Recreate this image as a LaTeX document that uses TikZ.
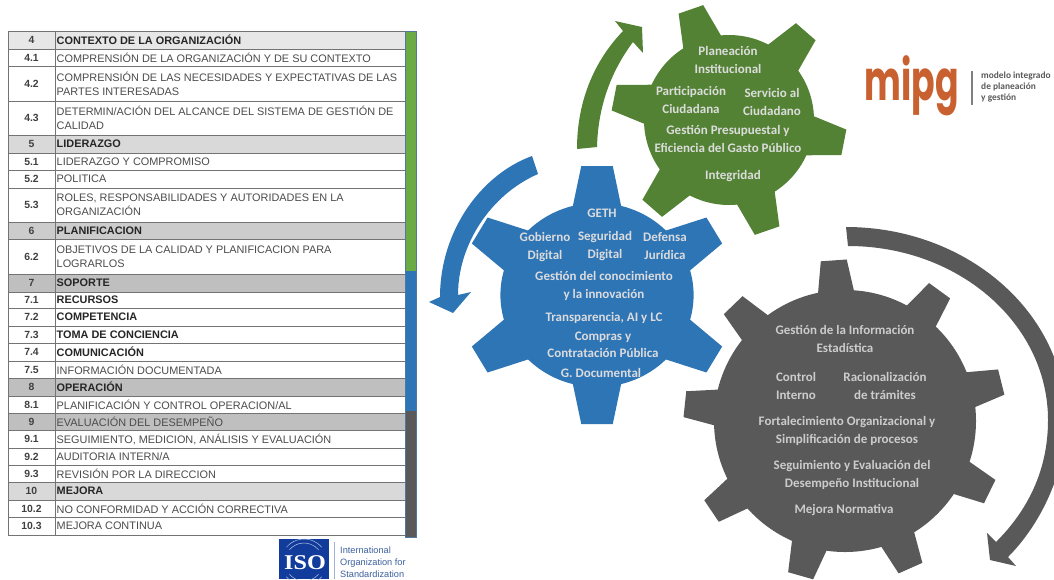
\documentclass[tikz,border=0pt]{standalone}
\usepackage{fontspec}
\setmainfont{Carlito}
\newfontfamily\tablefont[WordSpace=0.6]{Liberation Sans}
\newfontfamily\tableheadfont{Liberation Sans}
\newfontfamily\logofont{Poppins}
\newfontfamily\isofont{Liberation Serif}
\definecolor{gearGreen}{HTML}{548235}
\definecolor{gearBlue}{HTML}{2E75B6}
\definecolor{gearGray}{HTML}{595959}
\definecolor{barGreen}{HTML}{6AAB45}
\definecolor{rowA}{HTML}{E7E7E7}
\definecolor{rowB}{HTML}{D9D9D9}
\definecolor{rowC}{HTML}{CCCCCC}
\definecolor{rowD}{HTML}{BFBFBF}
\definecolor{mipgOrange}{HTML}{C9602F}
\definecolor{isoBlue}{HTML}{123C9C}
\definecolor{isoText}{HTML}{3D5F9E}
\begin{document}
\begin{tikzpicture}
[x=1pt,y=-1pt,
  numdecorate/.style={inner sep=0pt,font=\tableheadfont\fontsize{10.4}{12}\selectfont\bfseries,text=black!75},
  rowplain/.style={anchor=west,inner xsep=1pt,inner ysep=0pt,align=left,font=\tablefont\fontsize{10.9}{14.3}\selectfont,text=black!70},
  rowhead/.style={rowplain,font=\tableheadfont\fontsize{10.9}{14.3}\selectfont\bfseries,text=black!85},
  geartext/.style={inner sep=0pt,align=center,font=\fontsize{13}{17.3}\selectfont\bfseries},
  greentext/.style={geartext,text=green!5!black!14},
  bluetext/.style={geartext,text=blue!5!black!14},
  graytext/.style={geartext,text=black!20}]
\useasboundingbox (0,0) rectangle (1054,579);
\clip (0,0) rectangle (1054,579);
%% rows of the table
\foreach \num/\ya/\yb/\rowcol/\rowstyle/\txt [count=\i] in {
  4/31/49/rowA/rowhead/{CONTEXTO DE LA ORGANIZACIÓN},
  4.1/49/66/white/rowplain/{COMPRENSIÓN DE LA ORGANIZACIÓN Y DE SU CONTEXTO},
  4.2/66/101/white/rowplain/{COMPRENSIÓN DE LAS NECESIDADES Y EXPECTATIVAS DE LAS\\PARTES INTERESADAS},
  4.3/101/135/white/rowplain/{DETERMIN/ACIÓN DEL ALCANCE DEL SISTEMA DE GESTIÓN DE\\CALIDAD},
  5/135/153/rowB/rowhead/{LIDERAZGO},
  5.1/153/170/white/rowplain/{LIDERAZGO Y COMPROMISO},
  5.2/170/188/white/rowplain/{POLITICA},
  5.3/188/222/white/rowplain/{ROLES, RESPONSABILIDADES Y AUTORIDADES EN LA\\ORGANIZACIÓN},
  6/222/239/rowC/rowhead/{PLANIFICACION},
  6.2/239/274/white/rowplain/{OBJETIVOS DE LA CALIDAD Y PLANIFICACION PARA\\LOGRARLOS},
  7/274/292/rowD/rowhead/{SOPORTE},
  7.1/292/308/white/rowhead/{RECURSOS},
  7.2/308/326/white/rowhead/{COMPETENCIA},
  7.3/326/343/white/rowhead/{TOMA DE CONCIENCIA},
  7.4/343/361/white/rowhead/{COMUNICACIÓN},
  7.5/361/378/white/rowplain/{INFORMACIÓN DOCUMENTADA},
  8/378/396/rowD/rowhead/{OPERACIÓN},
  8.1/396/413/white/rowplain/{PLANIFICACIÓN Y CONTROL OPERACION/AL},
  9/413/430/rowD/rowplain/{EVALUACIÓN DEL DESEMPEÑO},
  9.1/430/448/white/rowplain/{SEGUIMIENTO, MEDICION, ANÁLISIS Y EVALUACIÓN},
  9.2/448/465/white/rowplain/{AUDITORIA INTERN/A},
  9.3/465/482/white/rowplain/{REVISIÓN POR LA DIRECCION},
  10/482/500/rowB/rowhead/{MEJORA},
  10.2/500/517/white/rowplain/{NO CONFORMIDAD Y ACCIÓN CORRECTIVA},
  10.3/517/535/white/rowplain/{MEJORA CONTINUA}}
{
  \fill[\rowcol] (8,\ya) rectangle (405,\yb);
  \draw[black!55,line width=0.9pt] (8,\ya) -- (405,\ya) (8,\yb) -- (405,\yb);
  \node[numdecorate] (num\i) at (31.5,{(\ya+\yb)/2}) {\num};
  \node[\rowstyle] (row\i) at (55.5,{(\ya+\yb)/2}) {\txt};
}
\draw[black!55,line width=0.9pt] (8,31) -- (8,535) (55.5,31) -- (55.5,535);
%% side bars
\foreach \barcol/\ya/\yb in {barGreen/31/271, gearBlue/271/411, gearGray/411/537}
{
  \fill[\barcol] (405,\ya) rectangle (416,\yb);
}
\draw[gearBlue!60!gray,line width=0.6pt] (405,31) rectangle (416,537);
%% gears
\foreach \gearcol/\cx/\cy/\xs/\rbody/\rtip/\tipw/\basew/\first/\stepang/\teeth in {
  gearGreen/729/120/1/85/117/13/21/-11/60/6,
  gearBlue/597/295/1.05/92/129/15/24/30/60/6,
  gearGray/845/421/1/131/161/13/19/94/40/9}
{
  \begin{scope}[shift={(\cx,\cy)},xscale=\xs]
    \fill[\gearcol] (0,0) circle [radius=\rbody pt];
    \foreach \k in {1,...,\teeth}
    {
      \pgfmathsetmacro{\ang}{\first+(\k-1)*\stepang}
      \fill[\gearcol,rotate=\ang] ({\rbody-8},-\basew) -- (\rtip,-\tipw) -- (\rtip,\tipw) -- ({\rbody-8},\basew) -- cycle;
    }
  \end{scope}
}
%% arrows
\fill[gearGreen] (577,149) .. controls (577,100) and (595,60) .. (623,31) -- (615,21) -- (642,27) -- (643,53) -- (633,42) .. controls (612,70) and (598,105) .. (597,147) -- cycle;
\fill[gearBlue] (532,156) .. controls (480,175) and (440,232) .. (440,297) -- (429,302) -- (453,313) -- (471,292) -- (458,295) .. controls (458,245) and (490,195) .. (538,174) -- cycle;
\fill[gearGray] (846,227) .. controls (967,227) and (1066,313) .. (1066,420) .. controls (1066,470) and (1042,523) .. (1008,557) -- (1016,566) -- (990,560) -- (987,533) -- (996,542) .. controls (1028,510) and (1048,470) .. (1048,420) .. controls (1048,324) and (959,246) .. (848,246) -- cycle;
%% gear labels
\foreach \nodename/\x/\y/\decorate/\txt in {
  planeacion/728/60/greentext/{Planeación\\Institucional},
  participacion/691/100/greentext/{Participación\\Ciudadana},
  servicio/772/102/greentext/{Servicio al\\Ciudadano},
  presupuesto/728/139/greentext/{Gestión Presupuestal y\\Eficiencia del Gasto Público},
  integridad/733/176/greentext/{Integridad},
  geth/602/213/bluetext/{GETH},
  gobierno/545/247/bluetext/{Gobierno\\Digital},
  seguridad/605/246/bluetext/{Seguridad\\Digital},
  defensa/665/246/bluetext/{Defensa\\Jurídica},
  conocimiento/604/286/bluetext/{Gestión del conocimiento\\y la innovación},
  transparencia/604/318/bluetext/{Transparencia, AI y LC},
  compras/603/345/bluetext/{Compras y\\Contratación Pública},
  documental/601/373/bluetext/{G. Documental},
  informacion/845/339/graytext/{Gestión de la Información\\Estadística},
  control/796/386/graytext/{Control\\Interno},
  tramites/885/386/graytext/{Racionalización\\de trámites},
  fortalecimiento/847/431/graytext/{Fortalecimiento Organizacional y\\Simplificación de procesos},
  seguimiento/852/475/graytext/{Seguimiento y Evaluación del\\Desempeño Institucional},
  normativa/844/510/graytext/{Mejora Normativa}}
{
  \node[\decorate] (\nodename) at (\x,\y) {\txt};
}
%% mipg logo
\node[inner sep=0pt,text=mipgOrange,xscale=.62,transform shape,font=\logofont\fontsize{56}{56}\selectfont\bfseries] (mipg) at (911.5,86) {mipg};
\fill[black!50] (971,71) rectangle (973,105);
\node[anchor=west,inner sep=0pt,align=left,text=black!65,font=\fontsize{9.4}{11}\selectfont\bfseries] (mipgtext) at (981,87) {modelo integrado\\de planeación\\y gestión};
%% iso logo
\fill[isoBlue] (279,539) rectangle (329,579);
\node[inner sep=0pt,text=white,xscale=1.15,transform shape,font=\isofont\fontsize{21}{21}\selectfont\bfseries] (iso) at (305,563) {ISO};
\foreach \r in {19,23}
{
  \draw[white!70!isoBlue,line width=0.5pt] (304,562) ++(40:\r pt) arc (40:140:\r pt);
  \draw[white!70!isoBlue,line width=0.5pt] (304,562) ++(-40:\r pt) arc (-40:-140:\r pt);
}
\fill[isoBlue!40] (334,542) rectangle (335,579);
\node[anchor=north west,inner sep=0pt,align=left,text=isoText,font=\tableheadfont\fontsize{9.2}{12}\selectfont] (isotext) at (340,546.5) {International\\Organization for\\Standardization};
\end{tikzpicture}
\end{document}
